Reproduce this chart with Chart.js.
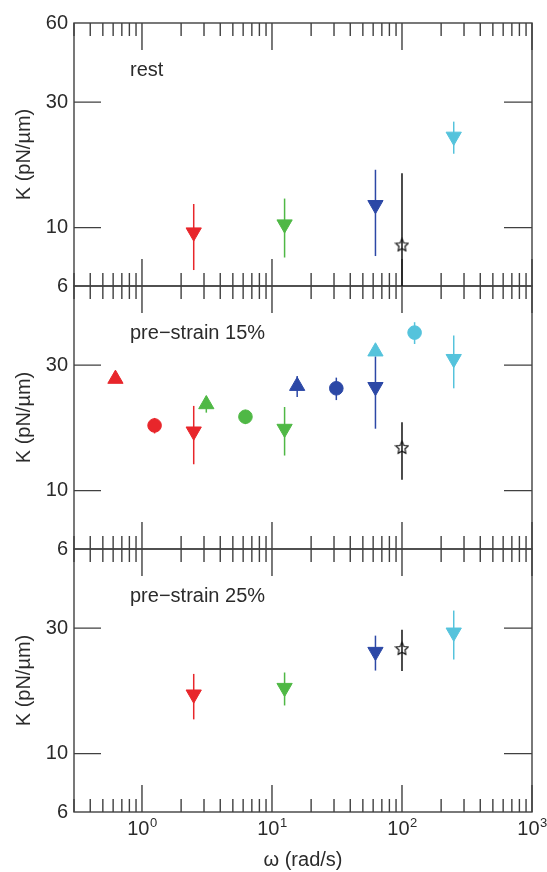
<!DOCTYPE html>
<html>
<head>
<meta charset="utf-8">
<title>K vs ω</title>
<script src="https://cdn.jsdelivr.net/npm/chart.js@4.4.1/dist/chart.umd.min.js"></script>
<style>
  html, body { margin: 0; padding: 0; background: #fff; }
  #stiffness { display: block; }
</style>
</head>
<body>
<canvas id="stiffness" width="547" height="872"></canvas>
<script>
  // panels, top to bottom
  const panelNames = ["rest", "pre\u2212strain 15%", "pre\u2212strain 25%"];

  // rest
  const restOmega = [2.5, 12.5, 62.5, 100, 250];
  const restK     = [9.6, 10.3, 12.2, 8.6, 22.2];
  const restErr   = [2.7, 2.6, 4.4, 7.5, 3.1];
  const restKind  = ["redDown", "greenDown", "blueDown", "star", "cyanDown"];

  // pre-strain 15%
  const pre15Omega = [0.625, 1.25, 2.5, 3.125, 6.25, 12.5, 15.625, 31.25, 62.5, 62.5, 100, 125, 250];
  const pre15K     = [26.6, 17.7, 16.8, 21.3, 19.1, 17.2, 25.0, 24.5, 24.8, 33.8, 14.6, 39.9, 31.7];
  const pre15Err   = [0, 1.2, 4.2, 1.5, 1.2, 3.6, 2.3, 2.4, 7.6, 0, 3.6, 3.8, 7.2];
  const pre15Kind  = ["redUp", "redCircle", "redDown", "greenUp", "greenCircle", "greenDown",
                      "blueUp", "blueCircle", "blueDown", "cyanUp", "star", "cyanCircle", "cyanDown"];

  // pre-strain 25%
  const pre25Omega = [2.5, 12.5, 62.5, 100, 250];
  const pre25K     = [16.8, 17.8, 24.4, 25.1, 28.9];
  const pre25Err   = [3.3, 2.55, 3.7, 4.5, 6.1];
  const pre25Kind  = ["redDown", "greenDown", "blueDown", "star", "cyanDown"];

  // axis ticks
  const yLabelsTop = [6, 10, 30, 60];
  const yLabels    = [6, 10, 30];
  const yInnerTicks = [10, 30];
  const xMajor = [1, 10, 100, 1000];

  const FONT = "'Liberation Sans', Arial, Helvetica, sans-serif";
  const INK = "#2b2b2b";
  const FRAME = "#404040";

  const RED = "#e8262b", GREEN = "#4fb845", BLUE = "#2c48a6", CYAN = "#55c3dc";

  // hollow five point star used for the black series
  function makeStar(size) {
    const c = document.createElement("canvas");
    c.width = c.height = size;
    const g = c.getContext("2d");
    const cx = size / 2, cy = size / 2 + 0.5, R = size / 2 - 1, r = R * 0.48;
    g.beginPath();
    for (let i = 0; i < 10; i++) {
      const a = -Math.PI / 2 + i * Math.PI / 5;
      const rad = i % 2 ? r : R;
      g.lineTo(cx + rad * Math.cos(a), cy + rad * Math.sin(a));
    }
    g.closePath();
    g.strokeStyle = "#111";
    g.lineWidth = 1.2;
    g.stroke();
    return c;
  }
  const starImg = makeStar(15);

  const TRI = 8.8, DOT = 6.8;
  const kindStyle = {
    redDown:     { color: RED,   shape: "triangle", rot: 180, r: TRI },
    redUp:       { color: RED,   shape: "triangle", rot: 0,   r: TRI },
    redCircle:   { color: RED,   shape: "circle",   rot: 0,   r: DOT },
    greenDown:   { color: GREEN, shape: "triangle", rot: 180, r: TRI },
    greenUp:     { color: GREEN, shape: "triangle", rot: 0,   r: TRI },
    greenCircle: { color: GREEN, shape: "circle",   rot: 0,   r: DOT },
    blueDown:    { color: BLUE,  shape: "triangle", rot: 180, r: TRI },
    blueUp:      { color: BLUE,  shape: "triangle", rot: 0,   r: TRI },
    blueCircle:  { color: BLUE,  shape: "circle",   rot: 0,   r: DOT },
    cyanDown:    { color: CYAN,  shape: "triangle", rot: 180, r: TRI },
    cyanUp:      { color: CYAN,  shape: "triangle", rot: 0,   r: TRI },
    cyanCircle:  { color: CYAN,  shape: "circle",   rot: 0,   r: DOT },
    star:        { color: "#111", shape: starImg,   rot: 0,   r: 7 }
  };

  function panelSets(axis, omega, k, err, kind) {
    return omega.map(function (w, i) {
      const st = kindStyle[kind[i]];
      return {
        label: kind[i],
        xAxisID: "x",
        yAxisID: axis,
        data: [{ x: w, y: k[i] }],
        errors: [err[i]],
        pointStyle: st.shape,
        rotation: st.rot,
        pointRadius: st.r,
        backgroundColor: st.color,
        borderColor: st.color,
        borderWidth: 1,
        showLine: false
      };
    });
  }

  // vertical error bars, clipped to each panel
  const errorBars = {
    id: "errorBars",
    beforeDatasetsDraw(chart) {
      const ctx = chart.ctx;
      chart.data.datasets.forEach(function (ds) {
        if (!ds.errors) return;
        const xs = chart.scales[ds.xAxisID], ys = chart.scales[ds.yAxisID];
        ctx.save();
        ctx.beginPath();
        ctx.rect(xs.left, ys.top, xs.width, ys.height);
        ctx.clip();
        ctx.strokeStyle = ds.borderColor;
        ctx.lineWidth = 1.5;
        ds.data.forEach(function (p, j) {
          const e = ds.errors[j];
          if (!e) return;
          const x = xs.getPixelForValue(p.x);
          const lo = p.y - e > 0 ? ys.getPixelForValue(p.y - e) : ys.bottom + 10;
          ctx.beginPath();
          ctx.moveTo(x, ys.getPixelForValue(p.y + e));
          ctx.lineTo(x, lo);
          ctx.stroke();
        });
        ctx.restore();
      });
    }
  };

  // boxed panels with inward ticks on all four sides
  const panelFrames = {
    id: "panelFrames",
    beforeDatasetsDraw(chart) {
      const ctx = chart.ctx;
      const xs = chart.scales.x;
      const minors = [];
      [0.1, 1, 10, 100].forEach(function (d) {
        for (let m = 2; m <= 9; m++) {
          const v = m * d;
          if (v > 0.3 && v < 1000) minors.push(v);
        }
      });
      ctx.save();
      ctx.strokeStyle = FRAME;
      ctx.lineWidth = 1.4;
      ["yRest", "y15", "y25"].forEach(function (id) {
        const ys = chart.scales[id];
        ctx.strokeRect(xs.left, ys.top, xs.right - xs.left, ys.bottom - ys.top);
        ctx.beginPath();
        minors.forEach(function (v) {
          const x = xs.getPixelForValue(v);
          ctx.moveTo(x, ys.top); ctx.lineTo(x, ys.top + 13);
          ctx.moveTo(x, ys.bottom); ctx.lineTo(x, ys.bottom - 13);
        });
        xMajor.forEach(function (v) {
          const x = xs.getPixelForValue(v);
          ctx.moveTo(x, ys.top); ctx.lineTo(x, ys.top + 27);
          ctx.moveTo(x, ys.bottom); ctx.lineTo(x, ys.bottom - 27);
        });
        yInnerTicks.forEach(function (v) {
          const y = ys.getPixelForValue(v);
          ctx.moveTo(xs.left, y); ctx.lineTo(xs.left + 27, y);
          ctx.moveTo(xs.right, y); ctx.lineTo(xs.right - 28, y);
        });
        ctx.stroke();
      });
      ctx.restore();
    },
    afterDraw(chart) {
      const ctx = chart.ctx;
      const xs = chart.scales.x;
      ctx.save();
      ctx.fillStyle = INK;
      ctx.textBaseline = "middle";
      ctx.font = "20px " + FONT;
      ["yRest", "y15", "y25"].forEach(function (id, i) {
        ctx.fillText(panelNames[i], xs.left + 56, chart.scales[id].top + 47);
      });
      // powers of ten under the bottom panel
      ctx.textBaseline = "alphabetic";
      xMajor.forEach(function (v) {
        const x = xs.getPixelForValue(v);
        const exp = String(Math.round(Math.log10(v)));
        ctx.font = "20px " + FONT;
        const w1 = ctx.measureText("10").width;
        ctx.font = "13px " + FONT;
        const w2 = ctx.measureText(exp).width;
        const x0 = x - (w1 + w2) / 2;
        ctx.font = "20px " + FONT;
        ctx.fillText("10", x0, xs.top + 23);
        ctx.font = "13px " + FONT;
        ctx.fillText(exp, x0 + w1 + 0.5, xs.top + 15);
      });
      ctx.restore();
    }
  };

  function yScale(labels, weight) {
    return {
      type: "logarithmic",
      position: "left",
      stack: "panels",
      stackWeight: 1,
      weight: weight,
      min: 6,
      max: 60,
      grid: { display: false, drawTicks: false },
      border: { display: false },
      afterBuildTicks(s) {
        s.ticks = labels.map(function (v) { return { value: v }; });
      },
      ticks: {
        autoSkip: false,
        padding: 6,
        color: INK,
        font: { family: FONT, size: 20 },
        callback: function (v) { return String(v); }
      },
      title: {
        display: true,
        text: "K (pN/\u00b5m)",
        color: INK,
        font: { family: FONT, size: 20 },
        padding: { top: 12, bottom: 0 }
      },
      afterFit(s) { s.width = 74; }
    };
  }

  const datasets = []
    .concat(panelSets("yRest", restOmega, restK, restErr, restKind))
    .concat(panelSets("y15", pre15Omega, pre15K, pre15Err, pre15Kind))
    .concat(panelSets("y25", pre25Omega, pre25K, pre25Err, pre25Kind));

  new Chart(document.getElementById("stiffness"), {
    type: "scatter",
    data: { datasets: datasets },
    options: {
      responsive: false,
      maintainAspectRatio: false,
      animation: false,
      layout: { padding: { top: 23, right: 15, left: 0, bottom: 0 } },
      plugins: { legend: { display: false }, tooltip: { enabled: false } },
      scales: {
        x: {
          type: "logarithmic",
          position: "bottom",
          min: 0.3,
          max: 1000,
          grid: { display: false, drawTicks: false },
          border: { display: false },
          ticks: { display: false },
          title: {
            display: true,
            text: "\u03c9 (rad/s)",
            color: INK,
            font: { family: FONT, size: 20 },
            padding: { top: 0, bottom: 0 }
          },
          afterFit(s) { s.height = 60; }
        },
        yRest: yScale(yLabelsTop, 3),
        y15: yScale(yLabels, 2),
        y25: yScale(yLabels, 1)
      }
    },
    plugins: [panelFrames, errorBars]
  });
</script>
</body>
</html>
